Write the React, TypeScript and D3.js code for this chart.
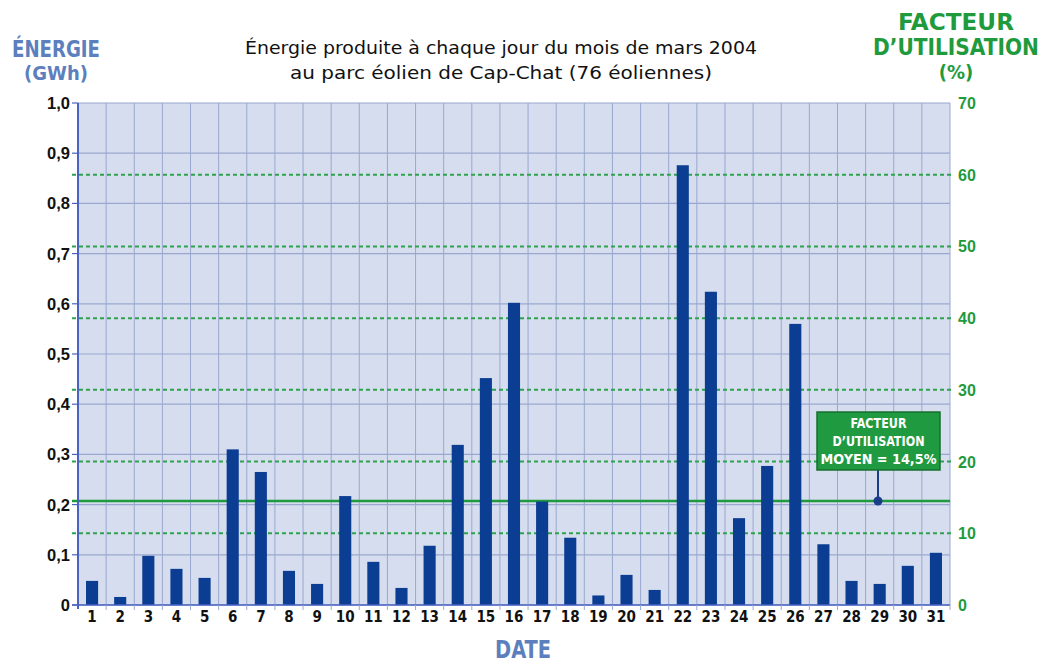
import React from "react";
import * as d3 from "d3";

const days: number[] = Array.from({ length: 31 }, (_, i) => i + 1);
const energyGWh: number[] = [
  0.048, 0.016, 0.098, 0.072, 0.054, 0.31, 0.265, 0.068, 0.042, 0.217,
  0.086, 0.034, 0.118, 0.319, 0.452, 0.602, 0.206, 0.134, 0.019, 0.06,
  0.03, 0.876, 0.624, 0.173, 0.277, 0.56, 0.121, 0.048, 0.042, 0.078, 0.104,
];
const energyTicks: number[] = [0, 0.1, 0.2, 0.3, 0.4, 0.5, 0.6, 0.7, 0.8, 0.9, 1.0];
const factorTicks: number[] = [0, 10, 20, 30, 40, 50, 60, 70];
const meanFactor = 14.5;
const titleLines: string[] = [
  "Énergie produite à chaque jour du mois de mars 2004",
  "au parc éolien de Cap-Chat (76 éoliennes)",
];
const noteLines: string[] = ["FACTEUR", "D’UTILISATION", "MOYEN = 14,5%"];

const W = 1048;
const H = 664;
const L = 78, R = 950, T = 103, B = 605;

const BLUE_T = "#5b80bd";
const GREEN = "#1f9a3c";
const GREEN_D = "#2ea24c";
const BAR = "#0b3d92";
const GRID = "#9aa8cf";
const COND = "'DejaVu Sans Condensed', 'Liberation Sans Narrow', 'Roboto', sans-serif";
const fmtE = (v: number) => (v === 0 ? "0" : v.toFixed(1).replace(".", ","));

export default function App() {
  const x = d3.scaleBand<number>().domain(days).range([L, R]).paddingInner(0).paddingOuter(0);
  const yE = d3.scaleLinear().domain([0, 1]).range([B, T]);
  const yP = d3.scaleLinear().domain([0, 70]).range([B, T]);
  const bw = x.bandwidth() * 0.43;
  const meanY = yP(meanFactor);
  const pinX = 878;

  return (
    <svg width={W} height={H} style={{ position: "absolute", left: 0, top: 0, background: "#fff" }}>
      <rect x={L} y={T} width={R - L} height={B - T} fill="#d5ddef" />
      {days.map((d) => (
        <line key={"v" + d} x1={x(d)! + x.bandwidth()} x2={x(d)! + x.bandwidth()} y1={T} y2={B} stroke={GRID} strokeWidth={1} />
      ))}
      {energyTicks.map((t) => (
        <line key={"h" + t} x1={L} x2={R} y1={yE(t)} y2={yE(t)} stroke={GRID} strokeWidth={1.2} />
      ))}
      {factorTicks.filter((t) => t > 0 && t < 70).map((t) => (
        <line key={"g" + t} x1={72} x2={R + 4} y1={yP(t)} y2={yP(t)} stroke={GREEN_D} strokeWidth={2} strokeDasharray="4,3" />
      ))}
      <line x1={72} x2={R} y1={meanY} y2={meanY} stroke={GREEN} strokeWidth={2.5} />
      {days.map((d, i) => (
        <rect key={"b" + d} x={x(d)! + (x.bandwidth() - bw) / 2} y={yE(energyGWh[i])} width={bw} height={B - yE(energyGWh[i])} fill={BAR} />
      ))}
      <line x1={L} x2={L} y1={T} y2={B + 4} stroke="#4a63c2" strokeWidth={2} />
      <line x1={L - 6} x2={R} y1={B} y2={B} stroke="#4a63c2" strokeWidth={1.5} />
      {energyTicks.map((t) => (
        <line key={"lt" + t} x1={L - 6} x2={L} y1={yE(t)} y2={yE(t)} stroke="#4a63c2" strokeWidth={1.2} />
      ))}
      {days.map((d) => (
        <line key={"bt" + d} x1={x(d)! + x.bandwidth()} x2={x(d)! + x.bandwidth()} y1={B} y2={B + 5} stroke={GRID} strokeWidth={1} />
      ))}
      {energyTicks.map((t) => (
        <text key={"ll" + t} x={L - 8} y={yE(t) + 6} textAnchor="end" fontFamily="'Liberation Sans', Arial, sans-serif" fontWeight="bold" fontSize={16.5} fill="#111">
          {fmtE(t)}
        </text>
      ))}
      {factorTicks.map((t) => (
        <text key={"rl" + t} x={R + 8} y={yP(t) + 6} textAnchor="start" fontFamily="'Liberation Sans', Arial, sans-serif" fontWeight="bold" fontSize={16} fill={GREEN}>
          {t}
        </text>
      ))}
      {days.map((d) => (
        <text key={"xl" + d} x={x(d)! + x.bandwidth() / 2} y={622} textAnchor="middle" fontFamily={COND} fontWeight="bold" fontSize={15} fill="#111">
          {d}
        </text>
      ))}
      <text x={56} y={57} textAnchor="middle" fontFamily={COND} fontWeight="bold" fontSize={23} fill={BLUE_T} textLength={88} lengthAdjust="spacingAndGlyphs">ÉNERGIE</text>
      <text x={56} y={80} textAnchor="middle" fontFamily={COND} fontWeight="bold" fontSize={20} fill={BLUE_T}>(GWh)</text>
      <text x={956} y={30} textAnchor="middle" fontFamily={COND} fontWeight="bold" fontSize={23} fill={GREEN} textLength={116} lengthAdjust="spacingAndGlyphs">FACTEUR</text>
      <text x={956} y={55} textAnchor="middle" fontFamily={COND} fontWeight="bold" fontSize={23} fill={GREEN} textLength={166} lengthAdjust="spacingAndGlyphs">D’UTILISATION</text>
      <text x={956} y={79} textAnchor="middle" fontFamily={COND} fontWeight="bold" fontSize={20} fill={GREEN}>(%)</text>
      <text x={523} y={658} textAnchor="middle" fontFamily={COND} fontWeight="bold" fontSize={24} fill={BLUE_T} textLength={56} lengthAdjust="spacingAndGlyphs">DATE</text>
      {titleLines.map((s, i) => (
        <text key={"t" + i} x={501} y={54 + i * 25} textAnchor="middle" fontFamily="'DejaVu Sans', sans-serif" fontSize={17} fill="#111"
          textLength={i === 0 ? 512 : 422} lengthAdjust="spacingAndGlyphs">
          {s}
        </text>
      ))}
      <line x1={pinX} x2={pinX} y1={470} y2={meanY} stroke="#1a3f8a" strokeWidth={2} />
      <circle cx={pinX} cy={meanY} r={4.5} fill="#1a3f8a" />
      <rect x={817} y={412} width={123} height={58} fill="#1f9a40" stroke="#176f2e" strokeWidth={1.5} />
      {noteLines.map((s, i) => (
        <text key={"a" + i} x={878.5} y={428 + i * 18} textAnchor="middle" fontFamily={COND} fontWeight="bold" fontSize={14} fill="#fff"
          textLength={[56, 92, 116][i]} lengthAdjust="spacingAndGlyphs">
          {s}
        </text>
      ))}
    </svg>
  );
}
